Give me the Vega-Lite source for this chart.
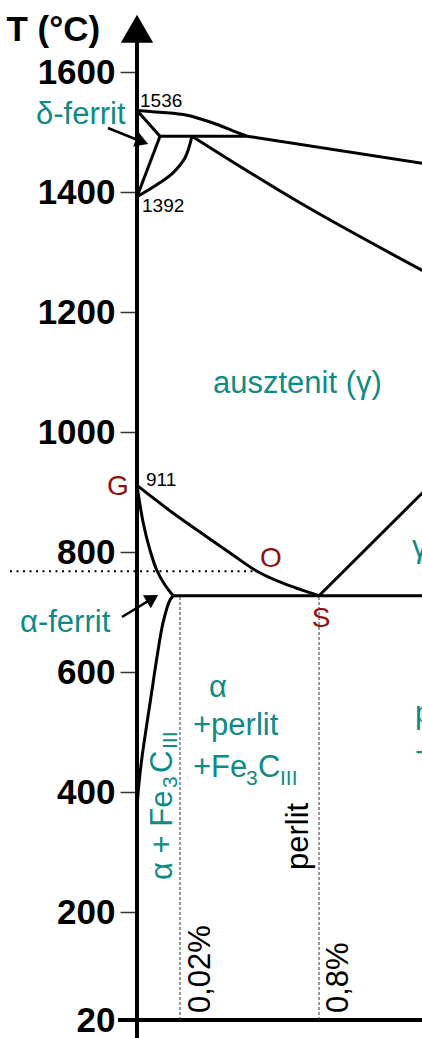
{
  "$schema": "https://vega.github.io/schema/vega-lite/v6.json",
  "width": 285,
  "height": 1005,
  "autosize": {"type": "none"},
  "padding": {"left": 137, "top": 15, "right": 0, "bottom": 18},
  "background": "white",
  "config": {"view": {"stroke": null}, "font": "Liberation Sans"},
  "datasets": {
    "bounds": [
      {"seg": "liquidus", "k": 0, "x": 0, "T": 1536},
      {"seg": "liquidus", "k": 1, "x": 0.0107, "T": 1533},
      {"seg": "liquidus", "k": 2, "x": 0.0593, "T": 1528},
      {"seg": "liquidus", "k": 3, "x": 0.205, "T": 1515},
      {"seg": "liquidus", "k": 4, "x": 0.317, "T": 1502},
      {"seg": "liquidus", "k": 5, "x": 0.396, "T": 1493},
      {"seg": "liquidus2", "k": 0, "x": 0.396, "T": 1493},
      {"seg": "liquidus2", "k": 1, "x": 1.36, "T": 1446},
      {"seg": "AH", "k": 0, "x": 0, "T": 1536},
      {"seg": "AH", "k": 1, "x": 0.0107, "T": 1493},
      {"seg": "HJB", "k": 0, "x": 0.0107, "T": 1493},
      {"seg": "HJB", "k": 1, "x": 0.396, "T": 1493},
      {"seg": "HN", "k": 0, "x": 0.0107, "T": 1493},
      {"seg": "HN", "k": 1, "x": 0, "T": 1392},
      {"seg": "NJ", "k": 0, "x": 0, "T": 1392},
      {"seg": "NJ", "k": 1, "x": 0.00916, "T": 1412},
      {"seg": "NJ", "k": 2, "x": 0.01674, "T": 1432},
      {"seg": "NJ", "k": 3, "x": 0.0481, "T": 1457},
      {"seg": "NJ", "k": 4, "x": 0.0873, "T": 1493},
      {"seg": "JE", "k": 0, "x": 0.0873, "T": 1493},
      {"seg": "JE", "k": 1, "x": 0.693, "T": 1382},
      {"seg": "JE", "k": 2, "x": 1.36, "T": 1263},
      {"seg": "GS", "k": 0, "x": 0, "T": 911},
      {"seg": "GS", "k": 1, "x": 0.01674, "T": 865},
      {"seg": "GS", "k": 2, "x": 0.1715, "T": 825},
      {"seg": "GS", "k": 3, "x": 0.317, "T": 795},
      {"seg": "GS", "k": 4, "x": 0.452, "T": 768},
      {"seg": "GS", "k": 5, "x": 0.598, "T": 748},
      {"seg": "GS", "k": 6, "x": 0.8, "T": 727},
      {"seg": "GP", "k": 0, "x": 0, "T": 911},
      {"seg": "GP", "k": 1, "x": 0.00293, "T": 848},
      {"seg": "GP", "k": 2, "x": 0.00605, "T": 803},
      {"seg": "GP", "k": 3, "x": 0.00916, "T": 770},
      {"seg": "GP", "k": 4, "x": 0.01302, "T": 745},
      {"seg": "GP", "k": 5, "x": 0.01688, "T": 727},
      {"seg": "PQ", "k": 0, "x": 0.01688, "T": 727},
      {"seg": "PQ", "k": 1, "x": 0.01535, "T": 720},
      {"seg": "PQ", "k": 2, "x": 0.01209, "T": 682},
      {"seg": "PQ", "k": 3, "x": 0.0093, "T": 625},
      {"seg": "PQ", "k": 4, "x": 0.00698, "T": 570},
      {"seg": "PQ", "k": 5, "x": 0.00465, "T": 515},
      {"seg": "PQ", "k": 6, "x": 0.00233, "T": 458},
      {"seg": "PQ", "k": 7, "x": 0.00093, "T": 415},
      {"seg": "PQ", "k": 8, "x": 0, "T": 375},
      {"seg": "PSK", "k": 0, "x": 0.01688, "T": 727},
      {"seg": "PSK", "k": 1, "x": 1.36, "T": 727},
      {"seg": "SE", "k": 0, "x": 0.8, "T": 727},
      {"seg": "SE", "k": 1, "x": 1.36, "T": 910}
    ],
    "axisLines": [
      {"x": 0, "x2": 0, "T": -10, "T2": 1672},
      {"x": -0.00884, "x2": 1.36, "T": 20, "T2": 20}
    ],
    "axisTip": [{"x": 0, "T": 1672}],
    "drops": [
      {"x": 0.02, "T": 20, "T2": 725},
      {"x": 0.8, "T": 20, "T2": 727}
    ],
    "curie": [{"x": -0.05907, "x2": 0.452, "T": 768}],
    "arrowShafts": [
      {"x": -0.01349, "T": 1506.7, "x2": 0.00233, "T2": 1483.8},
      {"x": -0.00698, "T": 691.7, "x2": 0.00721, "T2": 722.8}
    ],
    "headDelta": [{"x": 0.00233, "T": 1483.8}],
    "headAlpha": [{"x": 0.00721, "T": 722.8}],
    "nums": [
      {"x": 0.0014, "T": 1541.7, "label": "1536"},
      {"x": 0.00233, "T": 1366.7, "label": "1392"},
      {"x": 0.00419, "T": 910, "label": "911"}
    ],
    "points": [
      {"x": -0.01395, "T": 895, "label": "G"},
      {"x": 0.469, "T": 775, "label": "O"},
      {"x": 0.759, "T": 675, "label": "S"}
    ],
    "phases": [
      {"x": -0.04698, "T": 1513.3, "label": "δ-ferrit"},
      {"x": 0.205, "T": 1065.5, "label": "ausztenit (γ)"},
      {"x": -0.05442, "T": 667.2, "label": "α-ferrit"},
      {"x": 0.1827, "T": 558.3, "label": "α"},
      {"x": 0.093, "T": 495, "label": "+perlit"},
      {"x": 0.093, "T": 425.5, "label": "+Fe"},
      {"x": 0.4577, "T": 425.5, "label": "C"},
      {"x": 1.272, "T": 791.7, "label": "γ + Fe₃C"},
      {"x": 1.2875, "T": 515, "label": "perlit"},
      {"x": 1.2875, "T": 448.3, "label": "+Fe₃C"}
    ],
    "phaseSubs": [
      {"x": 0.3904, "T": 411.7, "label": "3"},
      {"x": 0.5812, "T": 411.7, "label": "III"}
    ],
    "vertPhase": [
      {"x": 0.01628, "T": 253.3, "label": "α + Fe"},
      {"x": 0.01628, "T": 431.7, "label": "C"}
    ],
    "vertPhaseSubs": [
      {"x": 0.0186, "T": 406.7, "label": "3"},
      {"x": 0.0186, "T": 471.7, "label": "III"}
    ],
    "vertBlack": [
      {"x": 0.7383, "T": 270, "label": "perlit"},
      {"x": 0.1883, "T": 31.7, "label": "0,02%"},
      {"x": 0.947, "T": 31.7, "label": "0,8%"}
    ]
  },
  "encoding": {
    "x": {"field": "x", "type": "quantitative",
          "scale": {"domain": [0, 0.02, 0.8, 1.323], "range": [0, 43, 182, 285], "nice": false, "zero": false},
          "axis": null},
    "y": {"field": "T", "type": "quantitative",
          "scale": {"domain": [20, 1695], "nice": false, "zero": false},
          "axis": {
            "values": [20, 200, 400, 600, 800, 1000, 1200, 1400, 1600],
            "format": "d",
            "domain": false, "grid": false,
            "tickSize": 17, "tickWidth": 1.5, "tickColor": "#333333",
            "labelFont": "Liberation Sans", "labelFontSize": 35, "labelFontWeight": "bold",
            "labelColor": "black", "labelPadding": 5, "labelBound": false, "labelOverlap": false,
            "title": "T (°C)", "titleAngle": 0, "titleAlign": "left", "titleBaseline": "alphabetic",
            "titleX": -131, "titleY": 25,
            "titleFont": "Liberation Sans", "titleFontSize": 35, "titleFontWeight": "bold", "titleColor": "black"
          }}
  },
  "layer": [
    {
      "data": {"name": "bounds"},
      "mark": {"type": "line", "stroke": "black", "strokeWidth": 3, "strokeJoin": "round", "strokeCap": "butt", "interpolate": "catmull-rom"},
      "encoding": {
        "detail": {"field": "seg"},
        "order": {"field": "k", "type": "quantitative"}
      }
    },
    {
      "data": {"name": "axisLines"},
      "mark": {"type": "rule", "color": "black", "strokeWidth": 4},
      "encoding": {
        "x2": {"field": "x2"},
        "y2": {"field": "T2"}
      }
    },
    {
      "data": {"name": "axisTip"},
      "mark": {"type": "point", "shape": "triangle-up", "size": 1045, "filled": true, "color": "black", "opacity": 1},
      "encoding": {}
    },
    {
      "data": {"name": "drops"},
      "mark": {"type": "rule", "color": "#333333", "strokeWidth": 1, "strokeDash": [3, 2]},
      "encoding": {
        "y2": {"field": "T2"}
      }
    },
    {
      "data": {"name": "curie"},
      "mark": {"type": "rule", "color": "black", "strokeWidth": 2, "strokeDash": [2, 4.5]},
      "encoding": {
        "x2": {"field": "x2"}
      }
    },
    {
      "data": {"name": "arrowShafts"},
      "mark": {"type": "rule", "color": "black", "strokeWidth": 2.5},
      "encoding": {
        "x2": {"field": "x2"},
        "y2": {"field": "T2"}
      }
    },
    {
      "data": {"name": "headDelta"},
      "mark": {"type": "point", "shape": "triangle-right", "angle": 21, "size": 230, "filled": true, "color": "black", "opacity": 1},
      "encoding": {}
    },
    {
      "data": {"name": "headAlpha"},
      "mark": {"type": "point", "shape": "triangle-right", "angle": 328.6, "size": 230, "filled": true, "color": "black", "opacity": 1},
      "encoding": {}
    },
    {
      "data": {"name": "nums"},
      "mark": {"type": "text", "align": "left", "baseline": "alphabetic", "font": "Liberation Sans", "fontSize": 19, "color": "black"},
      "encoding": {"text": {"field": "label"}}
    },
    {
      "data": {"name": "points"},
      "mark": {"type": "text", "align": "left", "baseline": "alphabetic", "font": "Liberation Sans", "fontSize": 28, "color": "#8e1212"},
      "encoding": {"text": {"field": "label"}}
    },
    {
      "data": {"name": "phases"},
      "mark": {"type": "text", "align": "left", "baseline": "alphabetic", "font": "Liberation Sans", "fontSize": 31, "color": "#108a86"},
      "encoding": {"text": {"field": "label"}}
    },
    {
      "data": {"name": "phaseSubs"},
      "mark": {"type": "text", "align": "left", "baseline": "alphabetic", "font": "Liberation Sans", "fontSize": 21, "color": "#108a86"},
      "encoding": {"text": {"field": "label"}}
    },
    {
      "data": {"name": "vertPhase"},
      "mark": {"type": "text", "align": "left", "baseline": "alphabetic", "angle": 270, "font": "Liberation Sans", "fontSize": 31, "color": "#108a86"},
      "encoding": {"text": {"field": "label"}}
    },
    {
      "data": {"name": "vertPhaseSubs"},
      "mark": {"type": "text", "align": "left", "baseline": "alphabetic", "angle": 270, "font": "Liberation Sans", "fontSize": 21, "color": "#108a86"},
      "encoding": {"text": {"field": "label"}}
    },
    {
      "data": {"name": "vertBlack"},
      "mark": {"type": "text", "align": "left", "baseline": "alphabetic", "angle": 270, "font": "Liberation Sans", "fontSize": 31, "color": "black"},
      "encoding": {"text": {"field": "label"}}
    }
  ]
}
